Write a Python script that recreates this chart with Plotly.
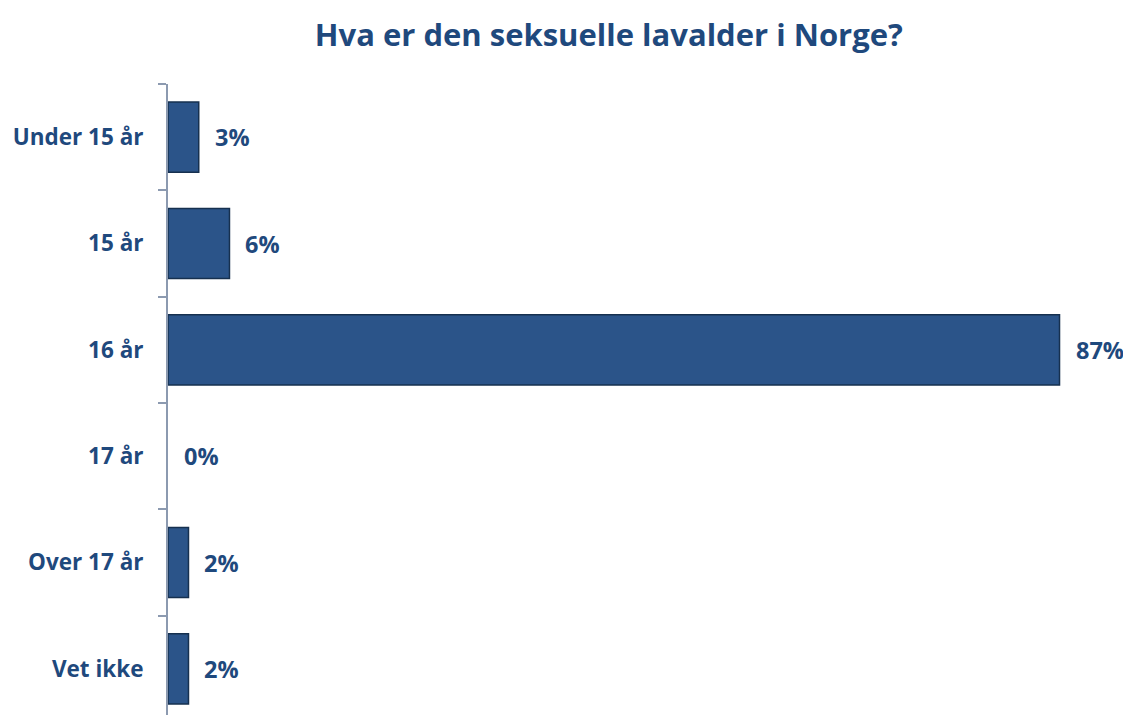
import plotly.graph_objects as go

categories = ["Under 15 år", "15 år", "16 år", "17 år", "Over 17 år", "Vet ikke"]
values = [3, 6, 87, 0, 2, 2]
labels = ["3%", "6%", "87%", "0%", "2%", "2%"]

title = "Hva er den seksuelle lavalder i Norge?"
dark = "#1F497D"
bar_color = "#2B5489"
edge = "#16304F"
axis_color = "#8C9AB0"
font_family = "'Open Sans', Lato, sans-serif"

fig = go.Figure()
fig.add_trace(go.Bar(
    y=categories,
    x=values,
    orientation="h",
    marker=dict(color=bar_color,
                line=dict(color=edge, width=[1.5 if v > 0 else 0 for v in values])),
    hoverinfo="skip",
))

for c, v, t in zip(categories, values, labels):
    fig.add_annotation(
        x=v, y=c, text=t, xanchor="left", yanchor="middle",
        xshift=14, showarrow=False,
        font=dict(family=font_family, size=23.5, color=dark, weight="bold"),
    )

fig.update_layout(
    width=1123, height=707,
    paper_bgcolor="white", plot_bgcolor="white",
    margin=dict(l=160, r=10, t=76, b=0),
    bargap=0.34,
    showlegend=False,
    title=dict(
        text=title, x=0.535, xanchor="center", y=0.962, yanchor="middle",
        font=dict(family=font_family, size=31, color=dark, weight="bold"),
    ),
    xaxis=dict(range=[0, 93], visible=False, fixedrange=True),
    yaxis=dict(
        type="category",
        categoryorder="array", categoryarray=categories,
        range=[5.434, -0.5],
        showline=True, linecolor=axis_color, linewidth=2,
        ticks="outside", tickson="boundaries", ticklen=8, tickcolor=axis_color, tickwidth=1.5,
        ticklabelstandoff=18,
        showgrid=False, zeroline=False,
        tickfont=dict(family=font_family, size=22.5, color=dark, weight="bold"),
    ),
)

fig.write_html("out.html")
